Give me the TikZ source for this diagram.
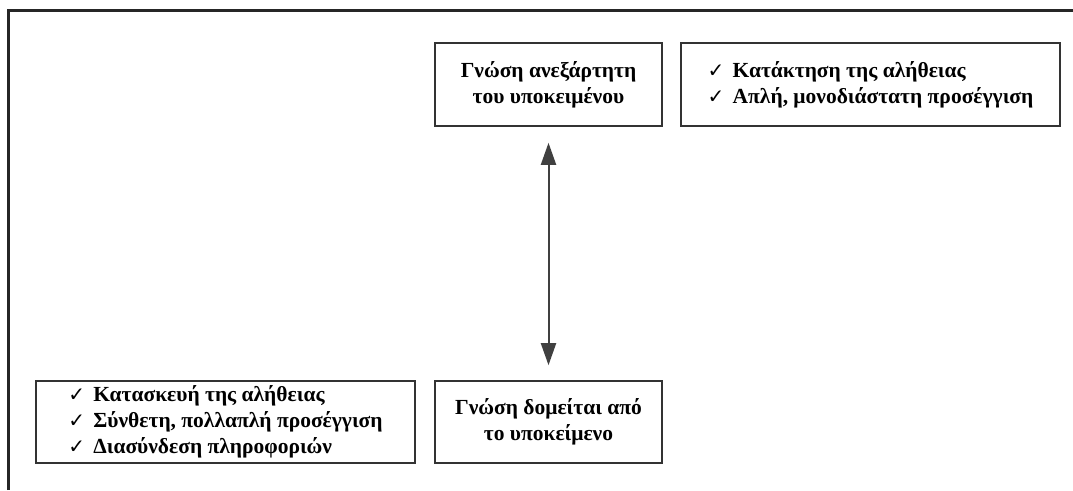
\documentclass[tikz,border=0pt]{standalone}
\usepackage{fontspec}
\setmainfont{Liberation Serif}
\newfontfamily\checkfont{DejaVu Sans}
\usetikzlibrary{arrows.meta}
\newcommand{\tick}{\makebox[25pt][l]{\checkfont\bfseries\fontsize{20}{20}\selectfont ✓}}
\tikzset{
  box/.style={draw=black!80, line width=1.6pt, rectangle, inner ysep=0pt,
    font=\bfseries\fontsize{21.5}{26}\selectfont, text=black},
  centrebox/.style={box, minimum width=227pt, minimum height=83pt, align=center},
  listbox/.style={box, minimum width=379pt, minimum height=83pt, align=left},
  link/.style={line width=2pt, draw=black!75,
    {Triangle[length=22pt,width=15pt]}-{Triangle[length=22pt,width=15pt]}},
}
\begin{document}
\begin{tikzpicture}[x=1pt,y=-1pt]
  \useasboundingbox (0,0) rectangle (1073,490);
  % outer frame
  \draw[line width=3pt, black!85] (8,490) -- (8,10) -- (1073,10);

  \node[centrebox] (indep) at (548.5,84.5)
    {Γνώση ανεξάρτητη\\του υποκειμένου};
  \node[listbox] (truthA) at (870.5,84.5)
    {\tick Κατάκτηση της αλήθειας\\\tick Απλή, μονοδιάστατη προσέγγιση};
  \node[listbox, minimum height=82pt] (truthB) at (225.5,422)
    {\tick Κατασκευή της αλήθειας\\\tick Σύνθετη, πολλαπλή προσέγγιση\\\tick Διασύνδεση πληροφοριών};
  \node[centrebox, minimum height=82pt] (built) at (548.5,422)
    {Γνώση δομείται από\\το υποκείμενο};

  \draw[link, shorten <=16pt, shorten >=15pt] (indep.south) -- (built.north);
\end{tikzpicture}
\end{document}
